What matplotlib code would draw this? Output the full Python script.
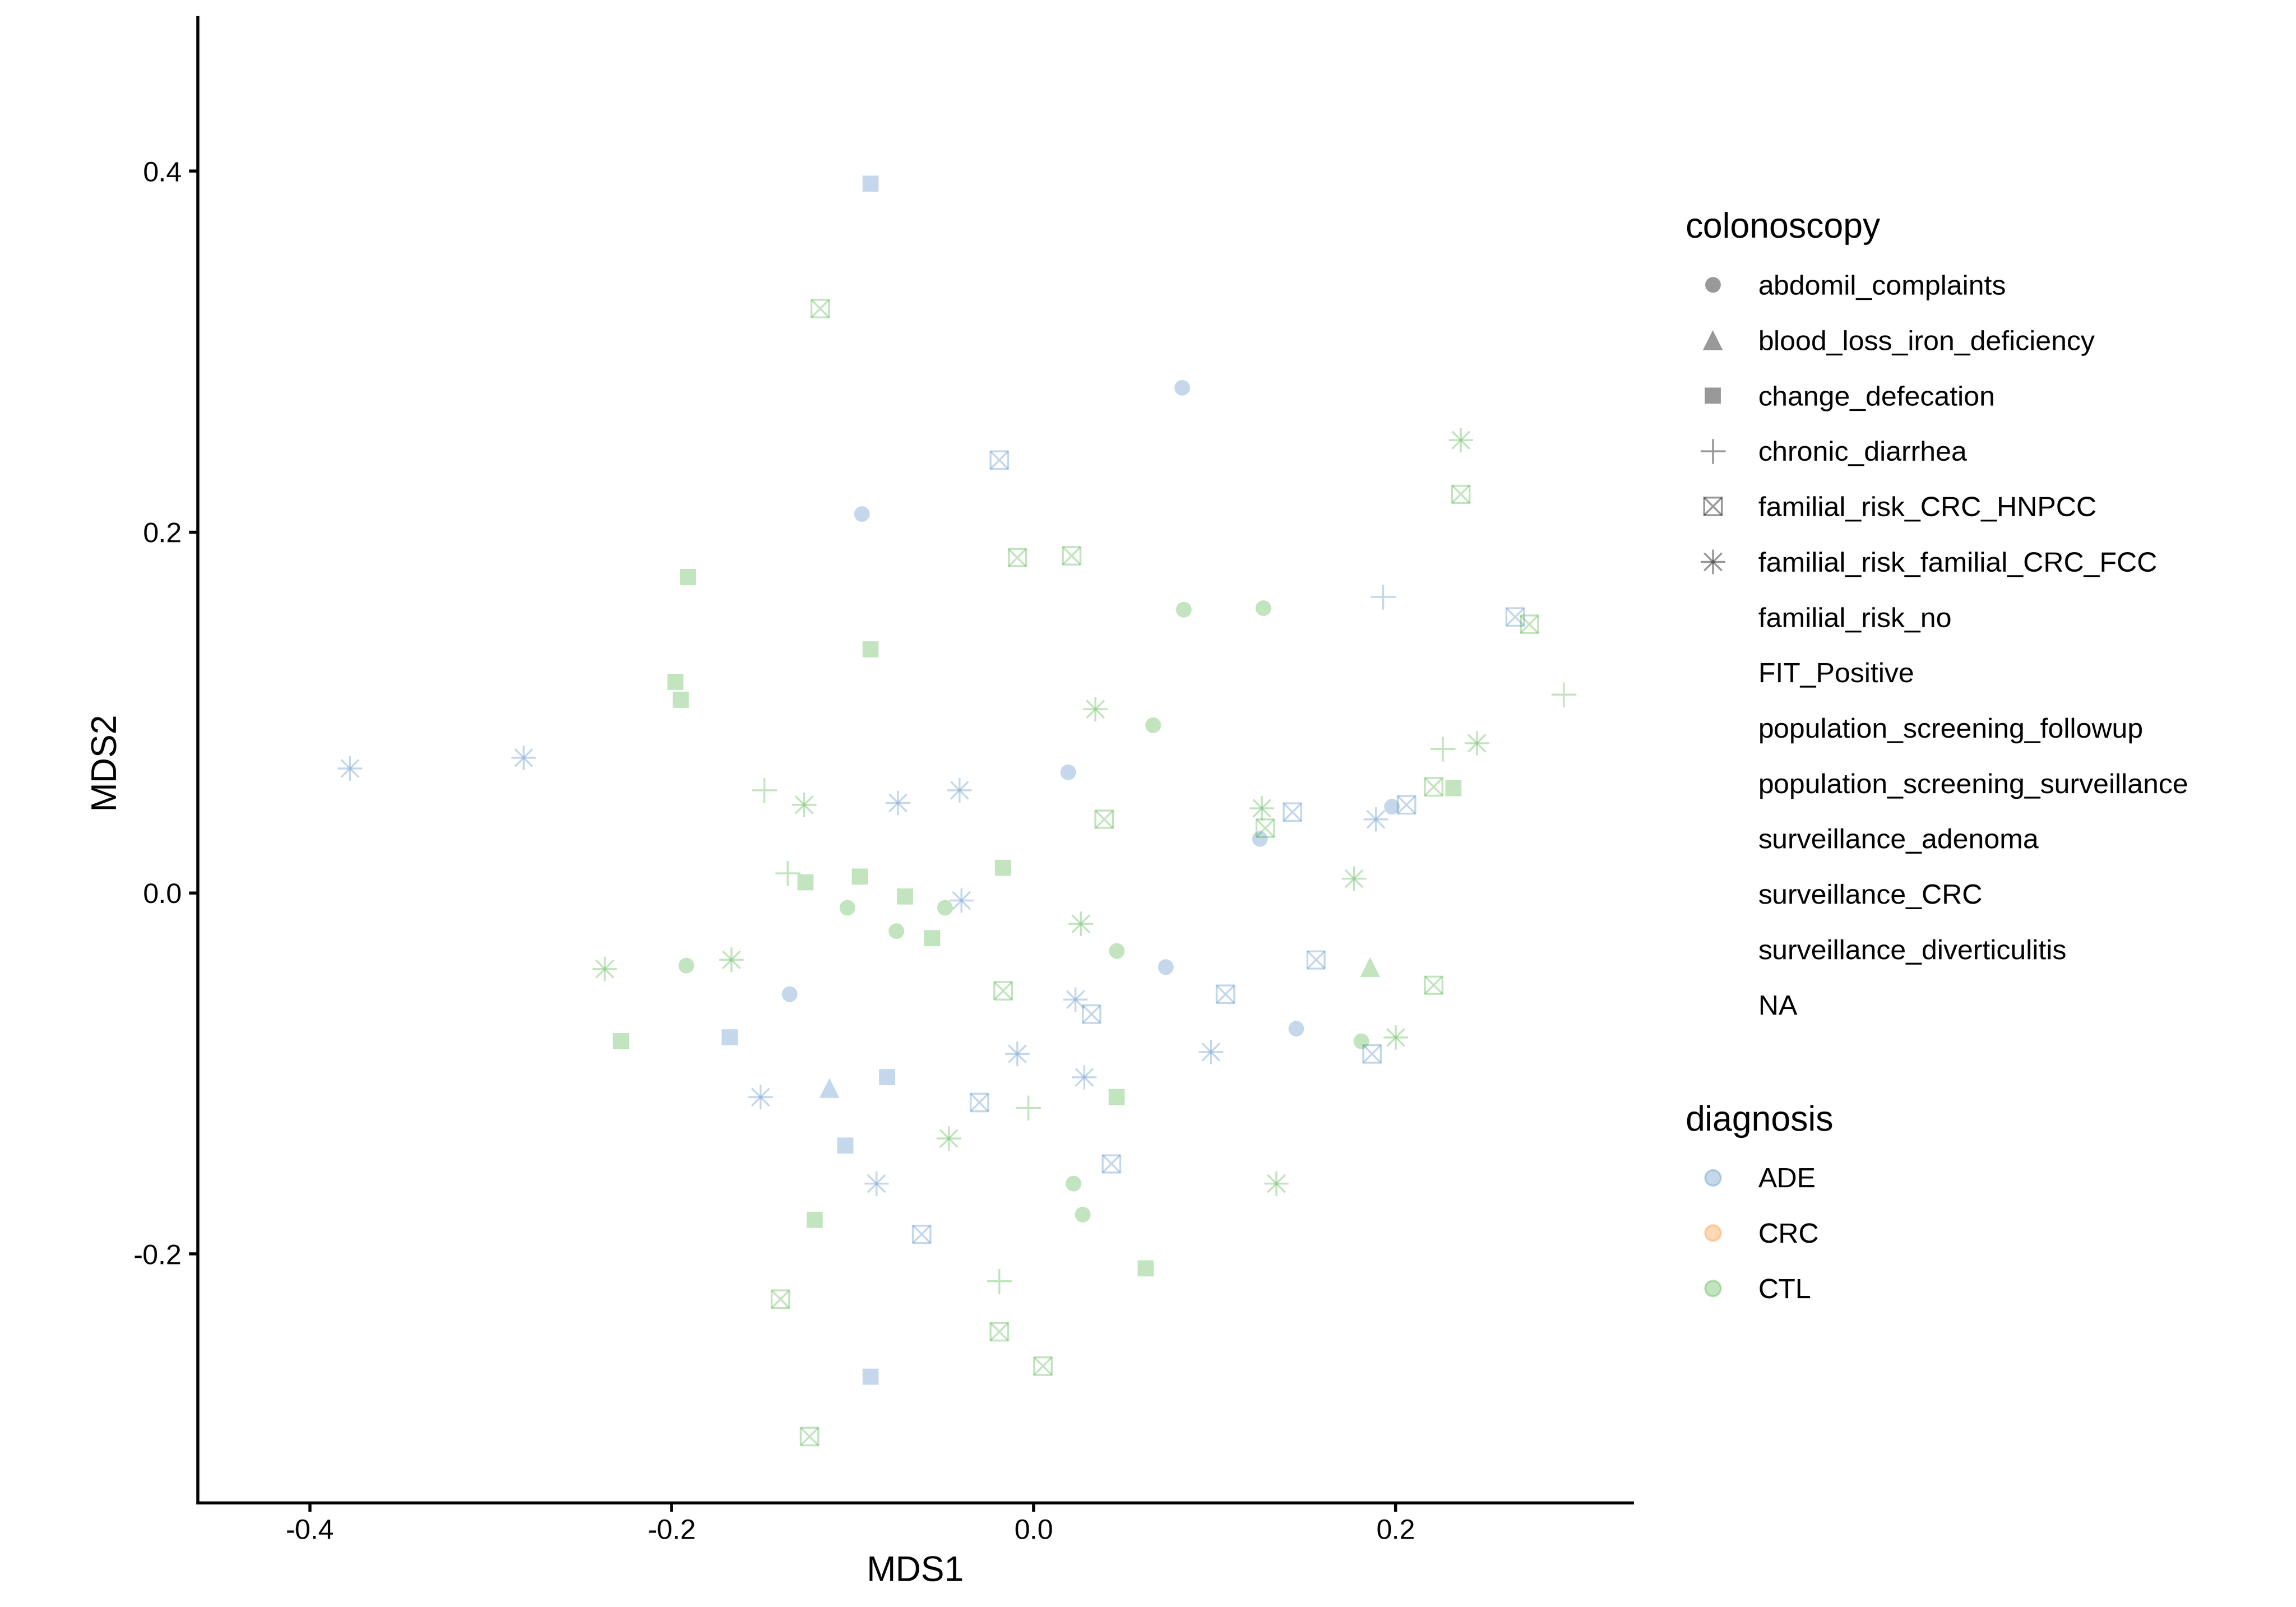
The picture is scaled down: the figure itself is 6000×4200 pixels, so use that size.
import matplotlib.pyplot as plt
from matplotlib.lines import Line2D

plt.rcParams['font.family'] = ['Liberation Sans', 'DejaVu Sans']
plt.rcParams['axes.unicode_minus'] = False

# MDS coordinates
ade_mds1 = [-0.090, 0.082, -0.019, -0.095, 0.193, 0.266, -0.378, -0.282, 0.019, -0.075,
            -0.041, 0.143, 0.206, 0.198, 0.189, 0.125, -0.040, 0.073, 0.156, -0.135,
            0.023, 0.032, 0.106, 0.145, -0.168, -0.009, 0.098, 0.187, -0.113, -0.151,
            -0.081, 0.028, -0.030, -0.104, 0.043, -0.087, -0.062, -0.090]
ade_mds2 = [0.393, 0.280, 0.240, 0.210, 0.164, 0.153, 0.069, 0.075, 0.067, 0.050,
            0.057, 0.045, 0.049, 0.048, 0.041, 0.030, -0.004, -0.041, -0.037, -0.056,
            -0.059, -0.067, -0.056, -0.075, -0.080, -0.089, -0.088, -0.089, -0.108, -0.113,
            -0.102, -0.102, -0.116, -0.140, -0.150, -0.161, -0.189, -0.268]
ade_colo = ["chg", "abd", "hnp", "abd", "dia", "hnp", "fcc", "fcc", "abd", "fcc",
            "fcc", "hnp", "hnp", "abd", "fcc", "abd", "fcc", "abd", "hnp", "abd",
            "fcc", "hnp", "hnp", "abd", "chg", "fcc", "fcc", "hnp", "bld", "fcc",
            "chg", "fcc", "hnp", "chg", "hnp", "fcc", "hnp", "chg"]

ctl_mds1 = [-0.118, 0.236, 0.236, -0.009, 0.021, -0.191, 0.083, 0.127, 0.274, -0.090,
            -0.198, -0.195, 0.293, 0.034, 0.066, 0.226, 0.245, 0.221, 0.232, -0.149,
            -0.127, 0.126, 0.128, 0.039, -0.017, -0.136, -0.126, -0.096, -0.071, -0.103,
            -0.049, 0.177, -0.076, -0.056, 0.026, 0.046, -0.192, -0.167, -0.237, 0.186,
            -0.017, 0.221, -0.228, 0.181, 0.200, 0.046, -0.003, -0.047, 0.022, 0.134,
            0.027, -0.121, 0.062, -0.019, -0.140, -0.019, 0.005, -0.124]
ctl_mds2 = [0.324, 0.251, 0.221, 0.186, 0.187, 0.175, 0.157, 0.158, 0.149, 0.135,
            0.117, 0.107, 0.110, 0.102, 0.093, 0.080, 0.083, 0.059, 0.058, 0.057,
            0.049, 0.047, 0.036, 0.041, 0.014, 0.011, 0.006, 0.009, -0.002, -0.008,
            -0.008, 0.008, -0.021, -0.025, -0.017, -0.032, -0.040, -0.037, -0.042, -0.041,
            -0.054, -0.051, -0.082, -0.082, -0.080, -0.113, -0.119, -0.136, -0.161, -0.161,
            -0.178, -0.181, -0.208, -0.215, -0.225, -0.243, -0.262, -0.301]
ctl_colo = ["hnp", "fcc", "hnp", "hnp", "hnp", "chg", "abd", "abd", "hnp", "chg",
            "chg", "chg", "dia", "fcc", "abd", "dia", "fcc", "hnp", "chg", "dia",
            "fcc", "fcc", "hnp", "hnp", "chg", "dia", "chg", "chg", "chg", "abd",
            "abd", "fcc", "abd", "chg", "fcc", "abd", "abd", "fcc", "fcc", "bld",
            "hnp", "hnp", "chg", "abd", "fcc", "chg", "dia", "fcc", "abd", "fcc",
            "abd", "chg", "chg", "dia", "hnp", "hnp", "hnp", "hnp"]

colo_labels = ["abdomil_complaints", "blood_loss_iron_deficiency", "change_defecation",
               "chronic_diarrhea", "familial_risk_CRC_HNPCC", "familial_risk_familial_CRC_FCC",
               "familial_risk_no", "FIT_Positive", "population_screening_followup",
               "population_screening_surveillance", "surveillance_adenoma",
               "surveillance_CRC", "surveillance_diverticulitis", "NA"]
colo_codes = ["abd", "bld", "chg", "dia", "hnp", "fcc"]

diag_labels = ["ADE", "CRC", "CTL"]
diag_colors = ["#4080bf", "#ff7f0e", "#38a82c"]

ALPHA = 0.3
LW = 1.2

# each shape is one or more matplotlib markers stacked: (marker, size, filled)
shapes = {
    "abd": [("o", 9.8, True)],
    "bld": [("^", 12.5, True)],
    "chg": [("s", 10, True)],
    "dia": [("+", 15.6, False)],
    "hnp": [("s", 11, False), ("x", 11, False)],
    "fcc": [("+", 15.4, False), ("x", 11, False)],
}

fig = plt.figure(figsize=(20, 14), dpi=300)
ax = fig.add_axes([0.0861, 0.0647, 0.711 - 0.0861, 0.989 - 0.0647])

groups = [(ade_mds1, ade_mds2, ade_colo, diag_colors[0]),
          (ctl_mds1, ctl_mds2, ctl_colo, diag_colors[2])]

for xs, ys, cs, col in groups:
    for code in colo_codes:
        px = [x for x, c in zip(xs, cs) if c == code]
        py = [y for y, c in zip(ys, cs) if c == code]
        if not px:
            continue
        for mk, ms, filled in shapes[code]:
            if filled:
                ax.scatter(px, py, marker=mk, s=ms ** 2, color=col, alpha=ALPHA,
                           linewidths=0)
            elif mk == "s":
                ax.scatter(px, py, marker=mk, s=ms ** 2, facecolors="none",
                           edgecolors=col, alpha=ALPHA, linewidths=LW)
            else:
                ax.scatter(px, py, marker=mk, s=ms ** 2, color=col, alpha=ALPHA,
                           linewidths=LW)

ax.set_xlim(-0.462, 0.331)
ax.set_ylim(-0.338, 0.485)
ax.set_xticks([-0.4, -0.2, 0.0, 0.2])
ax.set_yticks([-0.2, 0.0, 0.2, 0.4])
ax.set_xticklabels(["-0.4", "-0.2", "0.0", "0.2"])
ax.set_yticklabels(["-0.2", "0.0", "0.2", "0.4"])
ax.tick_params(labelsize=17.6, length=5.5, width=1.9, pad=4.4, colors="black")
ax.set_xlabel("MDS1", fontsize=22, labelpad=6.8)
ax.set_ylabel("MDS2", fontsize=22, labelpad=8)
for side in ["top", "right"]:
    ax.spines[side].set_visible(False)
for side in ["left", "bottom"]:
    ax.spines[side].set_linewidth(1.9)

# legend: colonoscopy shapes (grey), empty keys for unused levels
def shape_handle(code):
    parts = []
    for mk, ms, filled in shapes[code]:
        if filled:
            parts.append(Line2D([], [], linestyle="none", marker=mk, markersize=ms,
                                color="black", alpha=0.4, markeredgewidth=0))
        else:
            parts.append(Line2D([], [], linestyle="none", marker=mk, markersize=ms,
                                markerfacecolor="none", markeredgecolor="black",
                                alpha=0.4, markeredgewidth=LW))
    return tuple(parts) if len(parts) > 1 else parts[0]

colo_handles = [shape_handle(c) for c in colo_codes]
colo_handles += [Line2D([], [], linestyle="none") for _ in colo_labels[len(colo_codes):]]

leg_kw = dict(loc="upper left", bbox_transform=fig.transFigure, frameon=False,
              fontsize=17.6, title_fontsize=22, alignment="left",
              handlelength=1.97, handletextpad=0.63, labelspacing=1.06,
              borderpad=0, borderaxespad=0)

leg1 = ax.legend(colo_handles, colo_labels, title="colonoscopy",
                 bbox_to_anchor=(0.734, 0.868), **leg_kw)
ax.add_artist(leg1)

diag_handles = [Line2D([], [], linestyle="none", marker="o", markersize=9.8,
                       markerfacecolor=c, markeredgecolor=c, markeredgewidth=1.2,
                       alpha=ALPHA) for c in diag_colors]
ax.legend(diag_handles, diag_labels, title="diagnosis",
          bbox_to_anchor=(0.734, 0.3125), **leg_kw)

fig.savefig("out.png", dpi=300)
